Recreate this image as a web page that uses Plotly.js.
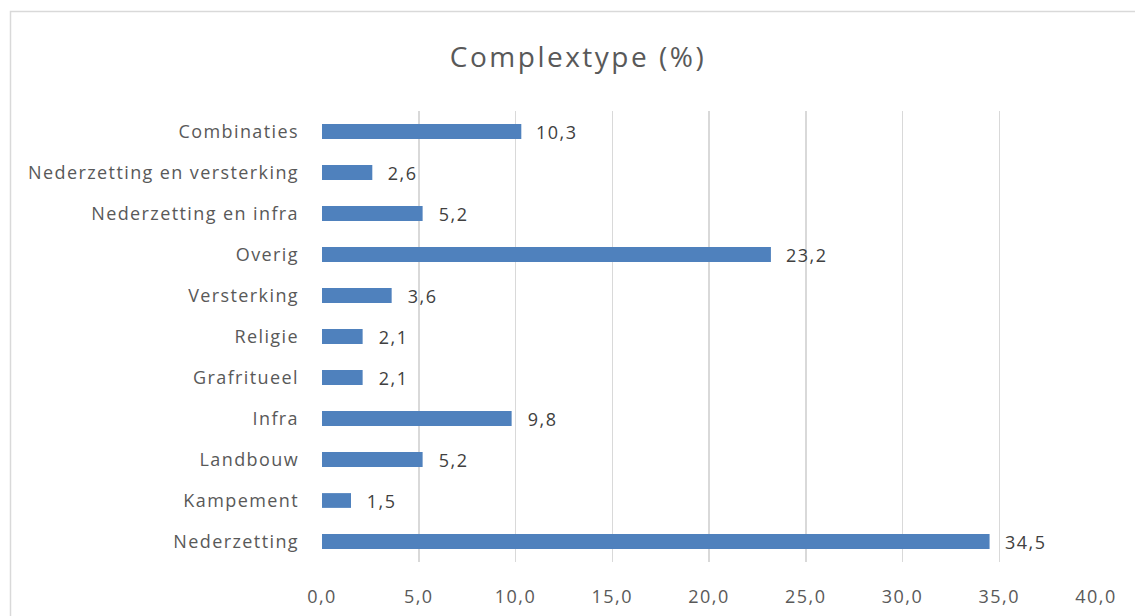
<!DOCTYPE html>
<html>
<head>
<meta charset="utf-8">
<script src="https://cdn.plot.ly/plotly-3.0.1.min.js"></script>
<style>
html,body{margin:0;padding:0;background:#fff;}
#chart{width:1135px;height:616px;}
#chart .gtitle{letter-spacing:2.5px;}
#chart .ytick text{letter-spacing:1.4px;}
#chart .xtick text{letter-spacing:1.5px;}
#chart .annotation-text{letter-spacing:1.5px;}
</style>
</head>
<body>
<div id="chart"></div>
<script>
// Categories listed bottom to top
const categories = ["Nederzetting","Kampement","Landbouw","Infra","Grafritueel","Religie","Versterking","Overig","Nederzetting en infra","Nederzetting en versterking","Combinaties"];
const values = [34.5, 1.5, 5.2, 9.8, 2.1, 2.1, 3.6, 23.2, 5.2, 2.6, 10.3];
const xTicks = [0,5,10,15,20,25,30,35,40];
const chartTitle = "Complextype (%)";

const W = 1135, H = 616;
const M = {l: 322, r: 39, t: 111, b: 54};
const pw = W - M.l - M.r, ph = H - M.t - M.b;
const px2x = p => (p - M.l) / pw;
const py2y = p => (H - M.b - p) / ph;
const txt = '#595959';
const fontFam = '"Open Sans", sans-serif';

const fmt = v => v.toFixed(1).replace('.', ',');

const trace = {
  type: 'bar', orientation: 'h',
  y: categories, x: values,
  marker: {color: '#4f81bd', line: {width: 0}},
  width: 0.36,
  hoverinfo: 'skip'
};

const annotations = categories.map((c, i) => ({
  x: values[i], y: c, xref: 'x', yref: 'y',
  text: fmt(values[i]), showarrow: false,
  xanchor: 'left', yanchor: 'middle', xshift: 16,
  font: {family: fontFam, size: 18, color: '#404040'}
}));

const layout = {
  width: W, height: H,
  margin: M,
  paper_bgcolor: '#fff', plot_bgcolor: '#fff',
  separators: ',.',
  showlegend: false,
  title: {
    text: chartTitle, x: 578 / W, xref: 'container', xanchor: 'center',
    y: 1 - 57 / H, yref: 'container', yanchor: 'middle',
    font: {family: fontFam, size: 28, color: txt}
  },
  xaxis: {
    range: [0, 40], tickvals: xTicks, ticktext: xTicks.map(fmt),
    showgrid: true, gridcolor: '#d9d9d9', gridwidth: 1.5,
    zeroline: false, showline: false, ticks: '',
    ticklabelstandoff: 22,
    tickfont: {family: fontFam, size: 18, color: txt},
    fixedrange: true
  },
  yaxis: {
    type: 'category', categoryorder: 'array', categoryarray: categories,
    showgrid: false, zeroline: false, showline: false, ticks: '',
    ticklabelstandoff: 22,
    tickfont: {family: fontFam, size: 18, color: txt},
    fixedrange: true
  },
  annotations: annotations,
  shapes: [{
    type: 'rect', xref: 'paper', yref: 'paper',
    x0: px2x(10.5), x1: px2x(W + 20), y0: py2y(H + 20), y1: py2y(11.5),
    line: {color: '#d9d9d9', width: 1.5}, fillcolor: 'rgba(0,0,0,0)', layer: 'below'
  }]
};

Plotly.newPlot('chart', [trace], layout, {displayModeBar: false, staticPlot: true});
</script>
</body>
</html>
